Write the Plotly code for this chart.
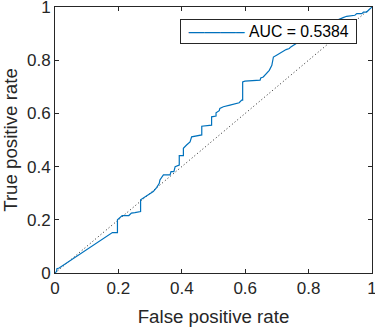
import plotly.graph_objects as go

fpr = [0, 0.005, 0.006, 0.013, 0.181, 0.197, 0.197, 0.212, 0.233, 0.241, 0.252, 0.266, 0.270, 0.270,
       0.310, 0.321, 0.329, 0.331, 0.342, 0.363, 0.366, 0.375, 0.379, 0.392, 0.392, 0.405, 0.405,
       0.415, 0.426, 0.431, 0.463, 0.463, 0.494, 0.494, 0.508, 0.508, 0.518, 0.520, 0.531, 0.552,
       0.568, 0.581, 0.589, 0.592, 0.592, 0.599, 0.647, 0.649, 0.657, 0.676, 0.684, 0.689, 0.699,
       0.710, 0.720, 0.729, 0.739, 0.744, 0.790, 0.850, 0.909, 0.920, 0.946, 0.952, 0.968, 0.973,
       0.983, 0.988, 0.994, 1.0]
tpr = [0, 0.006, 0.016, 0.019, 0.152, 0.152, 0.200, 0.216, 0.216, 0.225, 0.227, 0.231, 0.231, 0.275,
       0.306, 0.322, 0.337, 0.350, 0.369, 0.369, 0.381, 0.381, 0.400, 0.406, 0.441, 0.441, 0.469,
       0.481, 0.493, 0.512, 0.519, 0.552, 0.556, 0.587, 0.590, 0.602, 0.610, 0.619, 0.625, 0.631,
       0.635, 0.640, 0.650, 0.650, 0.718, 0.721, 0.725, 0.733, 0.737, 0.762, 0.781, 0.812, 0.819,
       0.827, 0.835, 0.840, 0.844, 0.850, 0.885, 0.930, 0.960, 0.965, 0.969, 0.975, 0.975, 0.981,
       0.981, 0.987, 0.994, 1.0]
chance = [0, 1]
auc_label = "AUC = 0.5384"
tick_vals = [0, 0.2, 0.4, 0.6, 0.8, 1]
tick_text = ["0", "0.2", "0.4", "0.6", "0.8", "1"]

curve_color = "#0072BD"

fig = go.Figure()
fig.add_trace(go.Scatter(x=chance, y=chance, mode="lines", showlegend=False,
                         line=dict(color="#222222", width=1, dash="1px,2.5px")))
fig.add_trace(go.Scatter(x=fpr, y=tpr, mode="lines", name=auc_label, showlegend=False,
                         line=dict(color=curve_color, width=1.2)))

axis_common = dict(range=[0, 1], tickvals=tick_vals, ticktext=tick_text,
                   ticks="inside", ticklen=4, tickcolor="#262626", tickwidth=1,
                   showline=True, linecolor="#262626", linewidth=1, mirror="ticks",
                   showgrid=False, zeroline=False, ticklabeloverflow="allow",
                   automargin=False,
                   tickfont=dict(size=17, color="#262626"))

legend_text = ("\u00a0<span style='color:%s'>\u2014\u2014\u2014\u2013</span>\u00a0%s\u00a0"
               % (curve_color, auc_label))

fig.update_layout(
    width=375, height=330,
    margin=dict(l=55, r=3, t=7, b=57, autoexpand=False),
    paper_bgcolor="white", plot_bgcolor="white",
    font=dict(family="Liberation Sans, Arial, sans-serif", color="#262626"),
    xaxis=dict(**axis_common, title=dict(text="False positive rate", font=dict(size=18.7), standoff=12)),
    yaxis=dict(**axis_common, title=dict(text="True positive rate", font=dict(size=18.7), standoff=4)),
    annotations=[dict(text=legend_text, xref="paper", yref="paper", x=0.9527, y=0.956,
                      xanchor="right", yanchor="top", showarrow=False,
                      bgcolor="white", bordercolor="#262626", borderwidth=1, borderpad=3,
                      font=dict(size=15.8, color="#000000"))],
    showlegend=False,
)

fig.write_html("out.html", config={"displayModeBar": False},
               post_script="document.body.style.margin='0';document.body.style.overflow='hidden';")
